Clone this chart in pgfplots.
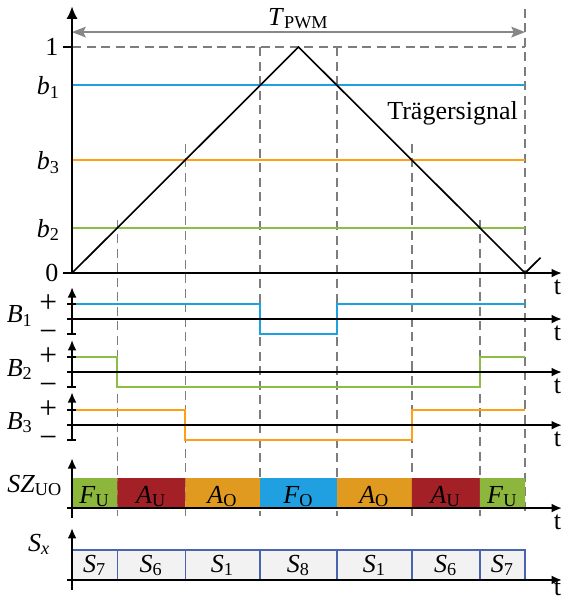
\documentclass[border=0pt]{standalone}
\usepackage{fontspec}
\setmainfont{Liberation Serif}
\usepackage{pgfplots}
\pgfplotsset{compat=1.18}
\usetikzlibrary{arrows.meta}
\definecolor{cB}{RGB}{30,160,225}
\definecolor{cO}{RGB}{255,160,20}
\definecolor{cG}{RGB}{140,190,70}
\definecolor{barG}{RGB}{140,182,60}
\definecolor{barR}{RGB}{163,32,38}
\definecolor{barO}{RGB}{224,154,32}
\definecolor{barB}{RGB}{32,160,224}
\definecolor{sxF}{RGB}{242,242,242}
\definecolor{sxE}{RGB}{72,100,175}
\definecolor{dgray}{RGB}{125,125,125}
\definecolor{agray}{RGB}{135,135,135}
\newcommand{\vs}[2]{\textit{#1}\textsubscript{#2}}
\newcommand{\sgn}[1]{{\fontsize{12.6}{13}\selectfont #1}}
\begin{document}
\begin{tikzpicture}[font=\fontsize{10.4}{12.5}\selectfont,
  dl/.style={dgray, line width=0.6pt, dash pattern=on 3.6pt off 2.2pt},
  ax/.style={black, line width=0.8pt},
  axa/.style={black, line width=0.8pt, -{Latex[length=4.2pt,width=3.6pt]}},
  sig/.style={line width=0.75pt},
  lab/.style={inner sep=0pt}]
\begin{axis}[
  x=90.6pt, y=90.4pt,
  xmin=-0.318, xmax=2.168, ymin=-1.451, ymax=1.208,
  axis lines=none, xtick=\empty, ytick=\empty,
  clip=false,
]
% frame of the picture (invisible)
\addplot[draw=none] coordinates {(-0.318,-1.451) (2.168,1.208)};
% dashed guides
\addplot[dl] coordinates {(0,1) (2,1)};
\addplot[dl] coordinates {(2,1.17) (2,-1.075)};
\addplot[dl] coordinates {(0.83,1) (0.83,-1.075)};
\addplot[dl] coordinates {(1.17,1) (1.17,-1.075)};
\addplot[dl] coordinates {(0.5,0.571) (0.5,-1.075)};
\addplot[dl] coordinates {(1.5,0.571) (1.5,-1.075)};
\addplot[dl] coordinates {(0.2,0.235) (0.2,-1.075)};
\addplot[dl] coordinates {(1.8,0.235) (1.8,-1.075)};
% T_PWM arrow
\addplot[agray, line width=0.6pt, {Stealth[length=5.5pt,width=4.3pt,inset=1pt]}-{Stealth[length=5.5pt,width=4.3pt,inset=1pt]}] coordinates {(0,1.066) (2,1.066)};
\node[lab, anchor=base] at (axis cs:1,1.097) {\vs{T}{PWM}};
% reference levels
\addplot[cB, sig] coordinates {(0,0.832) (2,0.832)};
\addplot[cO, sig] coordinates {(0,0.5) (2,0.5)};
\addplot[cG, sig] coordinates {(0,0.2) (2,0.2)};
% carrier
\addplot[black, line width=0.65pt] coordinates {(0,0) (1,1) (2,0) (2.068,0.068)};
\node[lab, anchor=base] at (axis cs:1.68,0.681) {Trägersignal};
% top axes
\addplot[black, line width=0.8pt, -{Latex[length=5pt,width=4.5pt]}] coordinates {(0,0) (0,1.18)};
\addplot[axa] coordinates {(-0.04,0) (2.163,0)};
\addplot[ax] coordinates {(-0.04,1) (0,1)};
\node[lab, anchor=east] at (axis cs:-0.058,1) {1};
\node[lab, anchor=east] at (axis cs:-0.058,0) {0};
\node[lab, anchor=east] at (axis cs:-0.05,0.822) {\vs{b}{1}};
\node[lab, anchor=east] at (axis cs:-0.05,0.49) {\vs{b}{3}};
\node[lab, anchor=east] at (axis cs:-0.05,0.19) {\vs{b}{2}};
\node[lab, anchor=base] at (axis cs:2.143,-0.093) {t};
% B1
\addplot[cB, sig] coordinates {(0,-0.1375) (0.83,-0.1375) (0.83,-0.2695) (1.17,-0.2695) (1.17,-0.1375) (2,-0.1375)};
\addplot[axa] coordinates {(-0.022,-0.2035) (2.163,-0.2035)};
\addplot[axa] coordinates {(0,-0.275) (0,-0.062)};
\addplot[ax] coordinates {(-0.022,-0.1375) (0.018,-0.1375)};
\addplot[ax] coordinates {(-0.022,-0.2695) (0.018,-0.2695)};
\node[lab, anchor=base east] at (axis cs:-0.064,-0.1725) {\sgn{+}};
\node[lab, anchor=base east] at (axis cs:-0.064,-0.3045) {\sgn{−}};
\node[lab, anchor=base east] at (axis cs:-0.17,-0.221) {\vs{B}{1}};
\node[lab, anchor=base] at (axis cs:2.143,-0.2965) {t};
% B2
\addplot[cG, sig] coordinates {(0,-0.372) (0.2,-0.372) (0.2,-0.504) (1.8,-0.504) (1.8,-0.372) (2,-0.372)};
\addplot[axa] coordinates {(-0.022,-0.438) (2.163,-0.438)};
\addplot[axa] coordinates {(0,-0.51) (0,-0.296)};
\addplot[ax] coordinates {(-0.022,-0.372) (0.018,-0.372)};
\addplot[ax] coordinates {(-0.022,-0.504) (0.018,-0.504)};
\node[lab, anchor=base east] at (axis cs:-0.064,-0.407) {\sgn{+}};
\node[lab, anchor=base east] at (axis cs:-0.064,-0.539) {\sgn{−}};
\node[lab, anchor=base east] at (axis cs:-0.17,-0.456) {\vs{B}{2}};
\node[lab, anchor=base] at (axis cs:2.143,-0.531) {t};
% B3
\addplot[cO, sig] coordinates {(0,-0.607) (0.5,-0.607) (0.5,-0.739) (1.5,-0.739) (1.5,-0.607) (2,-0.607)};
\addplot[axa] coordinates {(-0.022,-0.673) (2.163,-0.673)};
\addplot[axa] coordinates {(0,-0.745) (0,-0.527)};
\addplot[ax] coordinates {(-0.022,-0.607) (0.018,-0.607)};
\addplot[ax] coordinates {(-0.022,-0.739) (0.018,-0.739)};
\node[lab, anchor=base east] at (axis cs:-0.064,-0.642) {\sgn{+}};
\node[lab, anchor=base east] at (axis cs:-0.064,-0.774) {\sgn{−}};
\node[lab, anchor=base east] at (axis cs:-0.17,-0.691) {\vs{B}{3}};
\node[lab, anchor=base] at (axis cs:2.143,-0.766) {t};
% SZ_UO bars
\addplot[barG, fill=barG, draw=none] coordinates {(0,-1.04) (0.2,-1.04) (0.2,-0.907) (0,-0.907) (0,-1.04)};
\addplot[barR, fill=barR, draw=none] coordinates {(0.2,-1.04) (0.5,-1.04) (0.5,-0.907) (0.2,-0.907) (0.2,-1.04)};
\addplot[barO, fill=barO, draw=none] coordinates {(0.5,-1.04) (0.83,-1.04) (0.83,-0.907) (0.5,-0.907) (0.5,-1.04)};
\addplot[barB, fill=barB, draw=none] coordinates {(0.83,-1.04) (1.17,-1.04) (1.17,-0.907) (0.83,-0.907) (0.83,-1.04)};
\addplot[barO, fill=barO, draw=none] coordinates {(1.17,-1.04) (1.5,-1.04) (1.5,-0.907) (1.17,-0.907) (1.17,-1.04)};
\addplot[barR, fill=barR, draw=none] coordinates {(1.5,-1.04) (1.8,-1.04) (1.8,-0.907) (1.5,-0.907) (1.5,-1.04)};
\addplot[barG, fill=barG, draw=none] coordinates {(1.8,-1.04) (2,-1.04) (2,-0.907) (1.8,-0.907) (1.8,-1.04)};
\node[lab, anchor=base] at (axis cs:0.1,-1.018) {\vs{F}{U}};
\node[lab, anchor=base] at (axis cs:0.35,-1.018) {\vs{A}{U}};
\node[lab, anchor=base] at (axis cs:0.665,-1.018) {\vs{A}{O}};
\node[lab, anchor=base] at (axis cs:1,-1.018) {\vs{F}{O}};
\node[lab, anchor=base] at (axis cs:1.335,-1.018) {\vs{A}{O}};
\node[lab, anchor=base] at (axis cs:1.65,-1.018) {\vs{A}{U}};
\node[lab, anchor=base] at (axis cs:1.9,-1.018) {\vs{F}{U}};
\addplot[axa] coordinates {(-0.022,-1.04) (2.163,-1.04)};
\addplot[axa] coordinates {(0,-1.084) (0,-0.819)};
\node[lab, anchor=base east] at (axis cs:-0.04,-0.969) {\vs{SZ}{UO}};
\node[lab, anchor=base] at (axis cs:2.143,-1.133) {t};
% S_x boxes
\addplot[sxF, fill=sxF, draw=none] coordinates {(0,-1.358) (2,-1.358) (2,-1.226) (0,-1.226) (0,-1.358)};
\addplot[sxE, line width=0.6pt] coordinates {(0,-1.226) (2,-1.226) (2,-1.358)};
\addplot[sxE, line width=0.6pt] coordinates {(0.2,-1.226) (0.2,-1.358)};
\addplot[sxE, line width=0.6pt] coordinates {(0.5,-1.226) (0.5,-1.358)};
\addplot[sxE, line width=0.6pt] coordinates {(0.83,-1.226) (0.83,-1.358)};
\addplot[sxE, line width=0.6pt] coordinates {(1.17,-1.226) (1.17,-1.358)};
\addplot[sxE, line width=0.6pt] coordinates {(1.5,-1.226) (1.5,-1.358)};
\addplot[sxE, line width=0.6pt] coordinates {(1.8,-1.226) (1.8,-1.358)};
\node[lab, anchor=base] at (axis cs:0.1,-1.323) {\vs{S}{7}};
\node[lab, anchor=base] at (axis cs:0.35,-1.323) {\vs{S}{6}};
\node[lab, anchor=base] at (axis cs:0.665,-1.323) {\vs{S}{1}};
\node[lab, anchor=base] at (axis cs:1,-1.323) {\vs{S}{8}};
\node[lab, anchor=base] at (axis cs:1.335,-1.323) {\vs{S}{1}};
\node[lab, anchor=base] at (axis cs:1.65,-1.323) {\vs{S}{6}};
\node[lab, anchor=base] at (axis cs:1.9,-1.323) {\vs{S}{7}};
\addplot[axa] coordinates {(-0.022,-1.358) (2.163,-1.358)};
\addplot[axa] coordinates {(0,-1.403) (0,-1.128)};
\node[lab, anchor=base east] at (axis cs:-0.093,-1.230) {\textit{S}\textsubscript{\textit{x}}};
\node[lab, anchor=base] at (axis cs:2.143,-1.425) {t};
\end{axis}
\end{tikzpicture}
\end{document}
